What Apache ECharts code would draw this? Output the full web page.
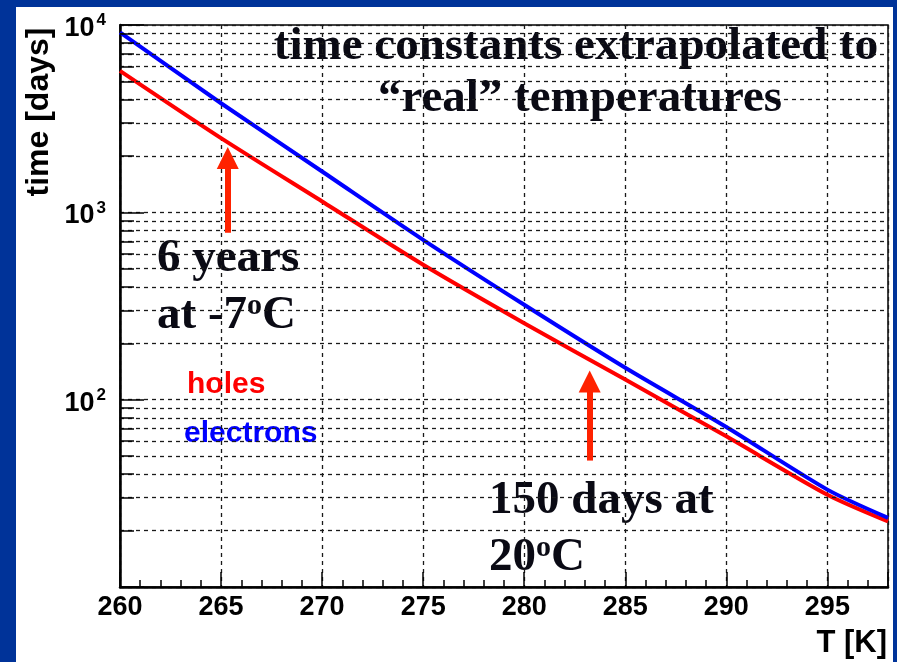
<!DOCTYPE html>
<html>
<head>
<meta charset="utf-8">
<script src="https://cdn.jsdelivr.net/npm/echarts@6/dist/echarts.min.js"></script>
<style>
html,body{margin:0;padding:0;background:#003399;overflow:hidden;}
#panel{position:absolute;left:16px;top:7px;width:877px;height:655px;background:#fff;}
#c{position:absolute;left:0;top:0;width:897px;height:662px;}
</style>
</head>
<body>
<div id="panel"></div>
<div id="c"></div>
<script>
// ---- data ----
const temperatures = [260, 265, 270, 275, 280, 285, 290, 295, 298];           // T [K]
const holes        = [5690, 2489, 1143, 525, 256, 128, 63.7, 31.1, 22.4];   // time [days]
const electrons    = [9140, 3822, 1652, 713, 321, 148, 71.5, 33.1, 23.4];   // time [days]
const xMajorTicks  = [260, 265, 270, 275, 280, 285, 290, 295];
const xMinorTicks  = [261,262,263,264,266,267,268,269,271,272,273,274,276,277,278,279,
                      281,282,283,284,286,287,288,289,291,292,293,294,296,297];
const yDecades     = [10, 100, 1000, 10000];
const yMinorValues = [20,30,40,50,60,70,80,90,200,300,400,500,600,700,800,900,
                      2000,3000,4000,5000,6000,7000,8000,9000];
// annotation arrows (T, value at tail, value at head centre)
const arrowT    = [265.33, 283.24];
const arrowFrom = [778, 47.3];
const arrowTo   = [1950, 125];

const X_MIN = 260, X_MAX = 298, Y_MIN = 10, Y_MAX = 10000;

const chart = echarts.init(document.getElementById('c'), null, {renderer: 'canvas'});

const gridDash = {type: [4, 4], color: '#1a1a1a', width: 1.3};
const tickSolid = {type: 'solid', color: '#000', width: 1.5};

const yTickLenUnits = 14 / ((888 - 120) / (X_MAX - X_MIN));
const xTickTop = Y_MIN * Math.pow(10, 7 / 187.5);
const markData = [];
yMinorValues.forEach(v => markData.push({yAxis: v, lineStyle: gridDash}));
yMinorValues.forEach(v => markData.push([
  {coord: [X_MIN, v], lineStyle: tickSolid},
  {coord: [X_MIN + yTickLenUnits, v]}
]));
xMinorTicks.forEach(t => markData.push([
  {coord: [t, Y_MIN], lineStyle: tickSolid},
  {coord: [t, xTickTop]}
]));

const serif = '"Liberation Serif", "Times New Roman", serif';
const sans = '"Liberation Sans", Arial, sans-serif';
const ink = '#0a0a14';
const big = 'bold 47px ' + serif;

const option = {
  animation: false,
  backgroundColor: 'transparent',
  grid: {left: 120, top: 25, right: 9, bottom: 75, show: true, borderColor: '#000', borderWidth: 1.5, containLabel: false},
  xAxis: {
    type: 'value', min: X_MIN, max: X_MAX, interval: 5,
    axisLine: {show: true, onZero: false, lineStyle: {color: '#000', width: 2.5}},
    axisTick: {show: true, inside: true, length: 15, lineStyle: {color: '#000', width: 1.5}},
    axisLabel: {
      margin: 7, color: '#000', fontSize: 27, fontWeight: 'bold', fontFamily: sans,
      formatter: v => (xMajorTicks.indexOf(v) >= 0 ? String(v) : '')
    },
    splitLine: {show: true, lineStyle: gridDash}
  },
  yAxis: {
    type: 'log', logBase: 10, min: Y_MIN, max: Y_MAX,
    axisLine: {show: true, onZero: false, lineStyle: {color: '#000', width: 2.5}},
    axisTick: {show: true, inside: true, length: 24, lineStyle: {color: '#000', width: 1.5}},
    axisLabel: {
      margin: 14, color: '#000',
      formatter: v => {
        const e = Math.round(Math.log10(v));
        if (e === 1) return '';
        return '{b|10}{s|' + e + '}';
      },
      rich: {
        b: {fontSize: 27, fontWeight: 'bold', fontFamily: sans, color: '#000', lineHeight: 30, padding: [7, 0, 0, 0]},
        s: {fontSize: 17, fontWeight: 'bold', fontFamily: sans, color: '#000', verticalAlign: 'top', lineHeight: 14, padding: [2, 0, 0, 2]}
      }
    },
    splitLine: {show: true, lineStyle: gridDash}
  },
  graphic: [
    {type: 'text', x: 576, y: 47, silent: true, style: {text: 'time constants extrapolated to', fill: ink, font: big, align: 'center', verticalAlign: 'middle'}},
    {type: 'text', x: 580, y: 99, silent: true, style: {text: '\u201Creal\u201D temperatures', fill: ink, font: big, align: 'center', verticalAlign: 'middle'}},
    {type: 'text', x: 157, y: 259, silent: true, style: {text: '6 years', fill: ink, font: big, align: 'left', verticalAlign: 'middle'}},
    {type: 'text', x: 157, y: 316, silent: true, style: {
      text: '{n|at -7}{s|o}{n|C}', align: 'left', verticalAlign: 'middle',
      rich: {n: {fill: ink, font: big, lineHeight: 50}, s: {fill: ink, font: 'bold 30px ' + serif, verticalAlign: 'top', lineHeight: 30}}}},
    {type: 'text', x: 489, y: 501, silent: true, style: {text: '150 days at', fill: ink, font: big, align: 'left', verticalAlign: 'middle'}},
    {type: 'text', x: 489, y: 558, silent: true, style: {
      text: '{n|20}{s|o}{n|C}', align: 'left', verticalAlign: 'middle',
      rich: {n: {fill: ink, font: big, lineHeight: 50}, s: {fill: ink, font: 'bold 30px ' + serif, verticalAlign: 'top', lineHeight: 30}}}},
    {type: 'text', x: 187, y: 385, silent: true, style: {text: 'holes', fill: '#ff0000', font: 'bold 30px ' + sans, align: 'left', verticalAlign: 'middle'}},
    {type: 'text', x: 184, y: 434, silent: true, style: {text: 'electrons', fill: '#0000ff', font: 'bold 30px ' + sans, align: 'left', verticalAlign: 'middle'}},
    {type: 'text', x: 39, y: 112, rotation: Math.PI / 2, silent: true, style: {text: 'time [days]', fill: '#000', font: 'bold 32px ' + sans, align: 'center', verticalAlign: 'middle'}},
    {type: 'text', x: 887, y: 643, silent: true, style: {text: 'T [K]', fill: '#000', font: 'bold 31px ' + sans, align: 'right', verticalAlign: 'middle'}}
  ],
  series: [
    {
      type: 'line', name: 'grid', data: [], silent: true, z: 1,
      markLine: {silent: true, symbol: ['none', 'none'], label: {show: false}, animation: false, data: markData}
    },
    {
      type: 'line', name: 'holes', z: 3, showSymbol: false, smooth: 0.25,
      data: temperatures.map((t, i) => [t, holes[i]]),
      lineStyle: {color: '#ff0000', width: 4}, itemStyle: {color: '#ff0000'}
    },
    {
      type: 'line', name: 'electrons', z: 4, showSymbol: false, smooth: 0.25,
      data: temperatures.map((t, i) => [t, electrons[i]]),
      lineStyle: {color: '#0000ff', width: 4}, itemStyle: {color: '#0000ff'}
    },
    {
      type: 'line', name: 'arrows', data: [], silent: true, z: 5,
      markLine: {
        silent: true, symbol: ['none', 'triangle'], symbolSize: 22, label: {show: false}, animation: false,
        lineStyle: {color: '#ff2200', width: 6, type: 'solid'},
        itemStyle: {color: '#ff2200'},
        emphasis: {disabled: true},
        data: arrowT.map((t, i) => [{coord: [t, arrowFrom[i]]}, {coord: [t, arrowTo[i]]}])
      }
    }
  ]
};
chart.setOption(option);
</script>
</body>
</html>
